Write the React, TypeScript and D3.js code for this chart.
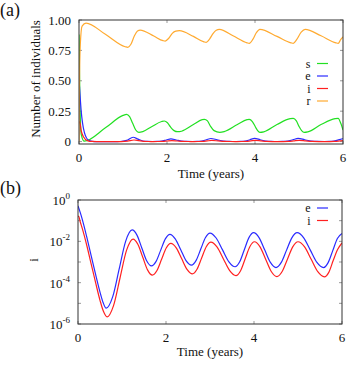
import React from 'react';
import * as d3 from 'd3';

// time (years), value
const susceptible: [number, number][] = [
  [0, 0.88], [0.02, 0.35], [0.05, 0.06], [0.12, 0.003], [0.6, 0.113], [1.0, 0.215], [1.08, 0.224],
  [1.15, 0.205], [1.22, 0.15], [1.29, 0.095], [1.36, 0.076], [1.45, 0.082], [1.65, 0.122], [1.88, 0.165],
  [1.94, 0.169], [2.01, 0.155], [2.08, 0.12], [2.16, 0.09], [2.24, 0.081], [2.33, 0.085], [2.6, 0.14],
  [2.8, 0.18], [2.85, 0.183], [2.92, 0.17], [2.99, 0.125], [3.07, 0.09], [3.2, 0.076], [3.3, 0.082],
  [3.6, 0.14], [3.82, 0.18], [3.87, 0.183], [3.94, 0.165], [4.01, 0.12], [4.06, 0.09], [4.11, 0.076],
  [4.2, 0.08], [4.5, 0.14], [4.8, 0.188], [4.87, 0.191], [4.94, 0.17], [5.0, 0.125], [5.06, 0.09],
  [5.12, 0.076], [5.2, 0.08], [5.5, 0.14], [5.82, 0.188], [5.89, 0.191], [5.95, 0.15], [6.0, 0.095],
];

const recovered: [number, number][] = [
  [0, 0.0], [0.01, 0.45], [0.03, 0.8], [0.07, 0.95], [0.16, 0.975], [0.6, 0.882], [1.05, 0.78],
  [1.11, 0.775], [1.18, 0.8], [1.26, 0.87], [1.33, 0.91], [1.39, 0.917], [1.7, 0.868], [1.91, 0.83],
  [1.96, 0.827], [2.04, 0.85], [2.12, 0.89], [2.2, 0.908], [2.28, 0.912], [2.6, 0.865], [2.84, 0.82],
  [2.89, 0.816], [2.97, 0.845], [3.05, 0.89], [3.12, 0.915], [3.19, 0.923], [3.5, 0.87], [3.82, 0.812],
  [3.87, 0.808], [3.95, 0.84], [4.03, 0.895], [4.11, 0.923], [4.5, 0.865], [4.82, 0.812], [4.87, 0.808],
  [4.95, 0.84], [5.05, 0.9], [5.14, 0.923], [5.5, 0.87], [5.84, 0.812], [5.89, 0.808], [5.95, 0.84],
  [6.0, 0.862],
];

const exposed: [number, number][] = [
  [0, 0.52], [0.05, 0.25], [0.1, 0.11], [0.2, 0.016], [0.3, 2.0e-3], [0.4, 2.5e-4], [0.5, 3.5e-5],
  [0.57, 1.1e-5], [0.64, 5.8e-6], [0.7875, 2.04e-5], [0.935, 4.52e-4], [1.0825, 1.0e-2],
  [1.23, 3.55e-2], [1.34, 2.0e-2], [1.45, 4.79e-3], [1.56, 1.15e-3], [1.67, 6.46e-4],
  [1.775, 1.07e-3], [1.88, 3.76e-3], [1.985, 1.32e-2], [2.09, 2.19e-2], [2.21, 1.32e-2],
  [2.335, 3.94e-3], [2.455, 1.17e-3], [2.58, 7.08e-4], [2.685, 1.2e-3], [2.79, 4.22e-3],
  [2.895, 1.48e-2], [3.0, 2.51e-2], [3.14, 1.45e-2], [3.285, 3.85e-3], [3.43, 1.02e-3],
  [3.57, 5.89e-4], [3.675, 1.02e-3], [3.78, 3.94e-3], [3.885, 1.51e-2], [3.99, 2.63e-2],
  [4.118, 1.48e-2], [4.245, 3.76e-3], [4.373, 9.55e-4], [4.5, 5.37e-4], [4.62, 9.55e-4],
  [4.74, 3.76e-3], [4.86, 1.48e-2], [4.98, 2.63e-2], [5.13, 1.48e-2], [5.28, 3.76e-3],
  [5.43, 9.55e-4], [5.58, 5.37e-4], [5.685, 9.33e-4], [5.79, 3.55e-3], [5.895, 1.38e-2],
  [6.0, 2.4e-2],
];

const infected: [number, number][] = [
  [0, 0.15], [0.015, 0.165], [0.05, 0.089], [0.1, 0.04], [0.2, 6.3e-3], [0.3, 7.9e-4], [0.4, 1.0e-4],
  [0.5, 1.4e-5], [0.58, 4.0e-6], [0.66, 2.2e-6], [0.8075, 7.76e-6], [0.955, 1.68e-4],
  [1.1025, 3.63e-3], [1.25, 1.29e-2], [1.36, 7.24e-3], [1.47, 1.74e-3], [1.58, 4.17e-4],
  [1.69, 2.34e-4], [1.795, 3.89e-4], [1.9, 1.36e-3], [2.005, 4.79e-3], [2.11, 7.94e-3],
  [2.2325, 4.84e-3], [2.355, 1.46e-3], [2.4775, 4.42e-4], [2.6, 2.69e-4], [2.705, 4.47e-4],
  [2.81, 1.57e-3], [2.915, 5.5e-3], [3.02, 9.12e-3], [3.1625, 5.25e-3], [3.305, 1.41e-3],
  [3.4475, 3.8e-4], [3.59, 2.19e-4], [3.695, 3.8e-4], [3.8, 1.45e-3], [3.905, 5.5e-3],
  [4.01, 9.55e-3], [4.1375, 5.37e-3], [4.265, 1.36e-3], [4.3925, 3.47e-4], [4.52, 1.95e-4],
  [4.64, 3.47e-4], [4.76, 1.36e-3], [4.88, 5.37e-3], [5.0, 9.55e-3], [5.15, 5.37e-3],
  [5.3, 1.35e-3], [5.45, 3.39e-4], [5.6, 1.91e-4], [5.7, 3.16e-4], [5.8, 1.17e-3], [5.9, 3.98e-3],
  [6.0, 8.32e-3],
];

const xTicks = [0, 2, 4, 6];
const yTicksA = [0, 0.25, 0.5, 0.75, 1.0];
const yTickLabelsA = ['0', '0.25', '0.50', '0.75', '1.00'];
const yTicksB = [1e-6, 1e-5, 1e-4, 1e-3, 1e-2, 1e-1, 1];
const yLabelExpB = [-6, -4, -2, 0];

const seriesA = [
  { name: 's', data: susceptible, color: '#22e022' },
  { name: 'e', data: exposed, color: '#2a2aff' },
  { name: 'i', data: infected, color: '#ff2020' },
  { name: 'r', data: recovered, color: '#ffaa30' },
];
const seriesB = [
  { name: 'e', data: exposed, color: '#2a2aff' },
  { name: 'i', data: infected, color: '#ff2020' },
];

const font = "'Liberation Serif', 'DejaVu Serif', 'Times New Roman', Times, serif";
const tickColor = '#999';
const frameColor = '#333';

export default function App() {
  // panel (a)
  const xa = d3.scaleLinear().domain([0, 6]).range([79, 343]);
  const ya = d3.scaleLinear().domain([-0.02, 1.0]).range([144, 20]);
  // panel (b)
  const xb = d3.scaleLinear().domain([0, 6]).range([78, 342]);
  const yb = d3.scaleLog().domain([1e-6, 1]).range([324, 200]);

  const lineA = d3.line<[number, number]>()
    .x(d => xa(d[0])).y(d => ya(d[1])).curve(d3.curveMonotoneX);
  const lineB = d3.line<[number, number]>()
    .x(d => xb(d[0])).y(d => yb(d[1])).curve(d3.curveMonotoneX);

  const [ax0, ax1] = xa.range();
  const [ay0, ay1] = ya.range();
  const [bx0, bx1] = xb.range();
  const [by0, by1] = yb.range();

  return (
    <svg width={348} height={365} style={{ position: 'absolute', left: 0, top: 0, fontFamily: font }}
      fill="#111">
      <defs>
        <clipPath id="clipA"><rect x={ax0} y={ay1} width={ax1 - ax0} height={ay0 - ay1} /></clipPath>
        <clipPath id="clipB"><rect x={bx0} y={by1} width={bx1 - bx0} height={by0 - by1} /></clipPath>
      </defs>

      {/* ---------- (a) ---------- */}
      <text x={0} y={15.5} fontSize={18}>(a)</text>
      {xTicks.map(t => (
        <g key={'axt' + t}>
          <line x1={xa(t)} x2={xa(t)} y1={ay0} y2={ay0 - 3} stroke={tickColor} />
          <line x1={xa(t)} x2={xa(t)} y1={ay1} y2={ay1 + 3} stroke={tickColor} />
          <text x={xa(t)} y={162} fontSize={13} textAnchor="middle">{t}</text>
        </g>
      ))}
      {yTicksA.map((v, k) => (
        <g key={'ayt' + v}>
          <line x1={ax0} x2={ax0 + 3} y1={ya(v)} y2={ya(v)} stroke={tickColor} />
          <line x1={ax1} x2={ax1 - 3} y1={ya(v)} y2={ya(v)} stroke={tickColor} />
          <text x={71} y={ya(v) + 4.5} fontSize={13} textAnchor="end">{yTickLabelsA[k]}</text>
        </g>
      ))}
      <g clipPath="url(#clipA)">
        {seriesA.map(s => (
          <path key={'la' + s.name} d={lineA(s.data) || ''} fill="none" stroke={s.color} strokeWidth={1.2} />
        ))}
      </g>
      <rect x={ax0} y={ay1} width={ax1 - ax0} height={ay0 - ay1} fill="none" stroke={frameColor} strokeWidth={1} />
      {seriesA.map((s, k) => (
        <g key={'lga' + s.name}>
          <text x={310.5} y={63.5 + k * 12.5 + 4} fontSize={12} textAnchor="end">{s.name}</text>
          <line x1={317} x2={328} y1={63.5 + k * 12.5} y2={63.5 + k * 12.5} stroke={s.color} strokeWidth={1.2} />
        </g>
      ))}
      <text transform="translate(35,79) rotate(-90)" fontSize={13} textAnchor="middle" dy="0.35em">
        Number of individuals
      </text>
      <text x={(ax0 + ax1) / 2} y={178} fontSize={13} textAnchor="middle">Time (years)</text>

      {/* ---------- (b) ---------- */}
      <text x={0} y={194} fontSize={18}>(b)</text>
      {xTicks.map(t => (
        <g key={'bxt' + t}>
          <line x1={xb(t)} x2={xb(t)} y1={by0} y2={by0 - 3} stroke={tickColor} />
          <line x1={xb(t)} x2={xb(t)} y1={by1} y2={by1 + 3} stroke={tickColor} />
          <text x={xb(t)} y={342} fontSize={13} textAnchor="middle">{t}</text>
        </g>
      ))}
      {yTicksB.map(v => (
        <g key={'byt' + v}>
          <line x1={bx0} x2={bx0 + 3} y1={yb(v)} y2={yb(v)} stroke={tickColor} />
          <line x1={bx1} x2={bx1 - 3} y1={yb(v)} y2={yb(v)} stroke={tickColor} />
        </g>
      ))}
      {yLabelExpB.map(p => (
        <text key={'byl' + p} x={70} y={yb(Math.pow(10, p)) + 5} fontSize={13} textAnchor="end">
          10<tspan dy={-6} fontSize={9}>{p}</tspan>
        </text>
      ))}
      <g clipPath="url(#clipB)">
        {seriesB.map(s => (
          <path key={'lb' + s.name} d={lineB(s.data) || ''} fill="none" stroke={s.color} strokeWidth={1.2} />
        ))}
      </g>
      <rect x={bx0} y={by1} width={bx1 - bx0} height={by0 - by1} fill="none" stroke={frameColor} strokeWidth={1} />
      {seriesB.map((s, k) => (
        <g key={'lgb' + s.name}>
          <text x={310.5} y={208 + k * 12.5 + 4} fontSize={12} textAnchor="end">{s.name}</text>
          <line x1={317} x2={328} y1={208 + k * 12.5} y2={208 + k * 12.5} stroke={s.color} strokeWidth={1.2} />
        </g>
      ))}
      <text transform="translate(33,260) rotate(-90)" fontSize={13} textAnchor="middle" dy="0.35em">i</text>
      <text x={(bx0 + bx1) / 2} y={356} fontSize={13} textAnchor="middle">Time (years)</text>
    </svg>
  );
}
